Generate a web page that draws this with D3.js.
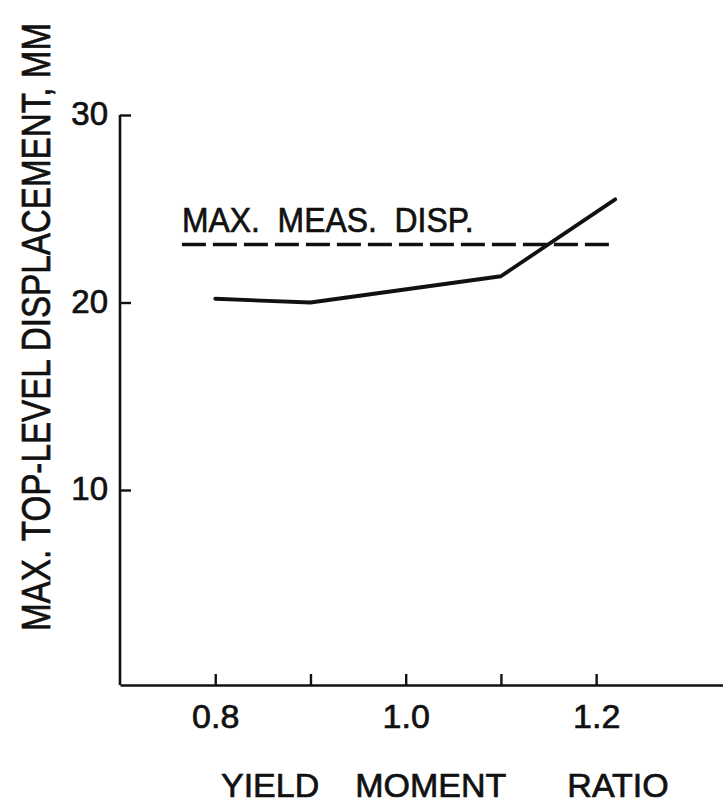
<!DOCTYPE html>
<html>
<head>
<meta charset="utf-8">
<script src="https://cdn.jsdelivr.net/npm/d3@7"></script>
<style>
  body { margin: 0; background: #fff; }
  svg { display: block; font-family: "Liberation Sans", Arial, sans-serif; }
  text { fill: #111; stroke: #111; stroke-width: 0.7px; }
</style>
</head>
<body>
<svg id="chart" width="723" height="806"></svg>
<script>
// yield moment ratio vs max top-level displacement (mm)
const ratios = [0.8, 0.9, 1.1, 1.22];
const displacement = [20.2, 20.0, 21.4, 25.5];

// measured maximum, drawn as dashed reference
const measuredMax = 23.1;
const measuredSpan = [0.765, 1.215];

const xTicks = [0.8, 0.9, 1.0, 1.1, 1.2];
const xTickLabels = ["0.8", "", "1.0", "", "1.2"];
const yTicks = [10, 20, 30];

const svg = d3.select("#chart");

const x = d3.scaleLinear().domain([0.7, 1.35]).range([120, 739]);
const y = d3.scaleLinear().domain([-0.4, 30]).range([685, 115]);

// x axis, ticks pointing up into the plot
const xAxis = svg.append("g")
  .attr("transform", `translate(0,${y(-0.4)})`)
  .call(d3.axisBottom(x).tickValues(xTicks).tickSizeInner(-11).tickSizeOuter(0)
    .tickFormat((d, i) => xTickLabels[i]));
xAxis.select(".domain").attr("stroke", "#111").attr("stroke-width", 2.6);
xAxis.selectAll(".tick line").attr("stroke", "#111").attr("stroke-width", 2.4);
xAxis.selectAll(".tick text")
  .attr("font-size", 34)
  .attr("font-family", "Liberation Sans, Arial, sans-serif")
  .attr("fill", "#111")
  .attr("y", 0)
  .attr("dy", 43);

// y axis, ticks pointing right
const yAxis = svg.append("g")
  .attr("transform", `translate(${x(0.7)},0)`)
  .call(d3.axisLeft(y).tickValues(yTicks).tickSizeInner(-11).tickSizeOuter(0)
    .tickFormat(d3.format("d")));
yAxis.select(".domain")
  .attr("d", `M0,${y(30)}V${y(-0.4)}`)
  .attr("stroke", "#111").attr("stroke-width", 2.6);
yAxis.selectAll(".tick line").attr("stroke", "#111").attr("stroke-width", 2.4);
yAxis.selectAll(".tick text")
  .attr("font-size", 33)
  .attr("font-family", "Liberation Sans, Arial, sans-serif")
  .attr("fill", "#111")
  .attr("x", -12)
  .attr("dy", "0.3em");

// dashed reference line
svg.append("line")
  .attr("x1", x(measuredSpan[0]))
  .attr("x2", x(measuredSpan[1]))
  .attr("y1", y(measuredMax))
  .attr("y2", y(measuredMax))
  .attr("stroke", "#111")
  .attr("stroke-width", 3.5)
  .attr("stroke-dasharray", "24,7");

// label squeezed horizontally like the narrow lettering
svg.append("text")
  .attr("transform", `translate(${x(measuredSpan[0])},${y(measuredMax) - 12}) scale(0.886,1)`)
  .attr("font-size", 36)
  .attr("xml:space", "preserve")
  .text("MAX.  MEAS.  DISP.");

// data line
const line = d3.line()
  .x((d, i) => x(ratios[i]))
  .y(d => y(d));

svg.append("path")
  .datum(displacement)
  .attr("d", line)
  .attr("fill", "none")
  .attr("stroke", "#111")
  .attr("stroke-width", 3.8)
  .attr("stroke-linejoin", "round")
  .attr("stroke-linecap", "round");

// axis titles
svg.append("text")
  .attr("transform", "translate(50,327) rotate(-90) scale(0.83,1)")
  .attr("text-anchor", "middle")
  .attr("font-size", 40)
  .text("MAX. TOP-LEVEL DISPLACEMENT, MM");

const xTitle = svg.append("text")
  .attr("x", 221)
  .attr("y", 797)
  .attr("font-size", 34);
xTitle.append("tspan").text("YIELD");
xTitle.append("tspan").attr("dx", 36).text("MOMENT");
xTitle.append("tspan").attr("dx", 61).text("RATIO");
</script>
</body>
</html>
